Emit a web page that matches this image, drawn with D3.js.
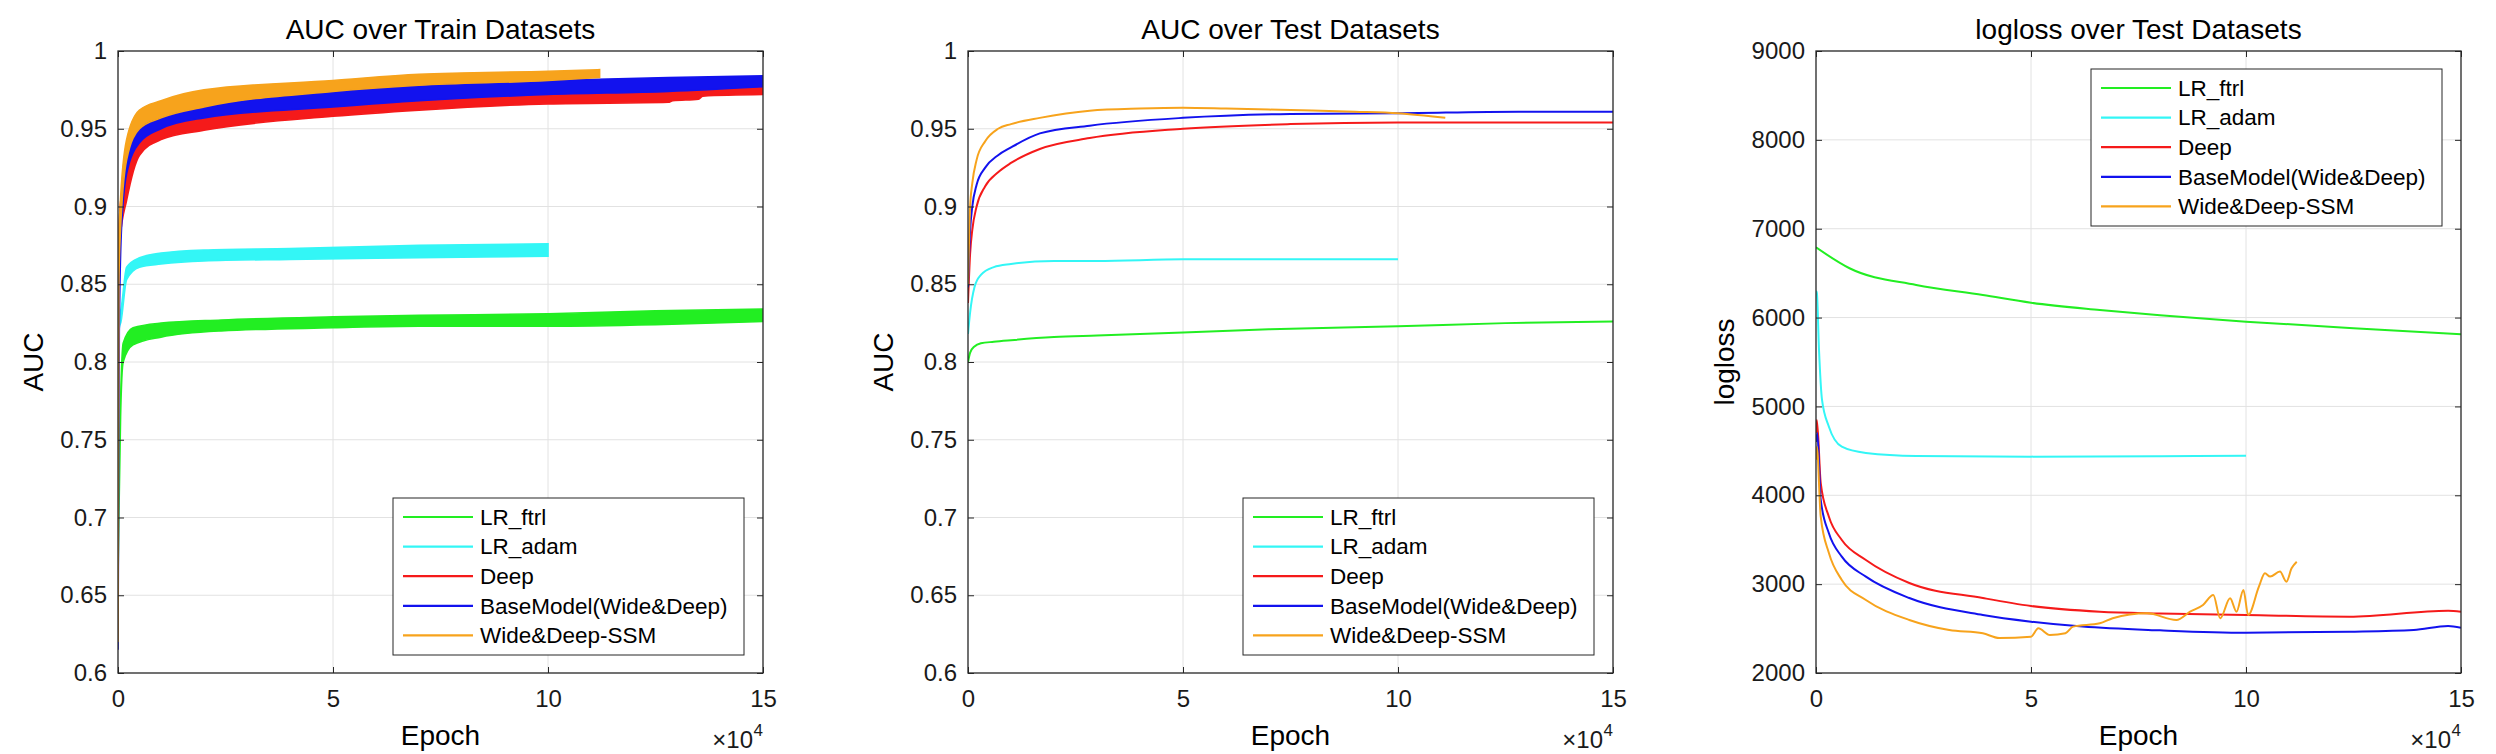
<!DOCTYPE html>
<html>
<head>
<meta charset="utf-8">
<script src="https://cdn.jsdelivr.net/npm/d3@7/dist/d3.min.js"></script>
<style>
  html, body { margin: 0; padding: 0; background: #fff; }
  svg { display: block; font-family: "Liberation Sans", Arial, Helvetica, sans-serif; }
</style>
</head>
<body>
<svg id="chart" width="2496" height="754"></svg>
<script>
// ── shared labels / ticks ──
const seriesNames = ["LR_ftrl", "LR_adam", "Deep", "BaseModel(Wide&Deep)", "Wide&Deep-SSM"];
const seriesColors = ["#22ee22", "#33f6f6", "#f51a1a", "#1212ee", "#f7a31c"];
const epochTicks = [0, 5, 10, 15];
const aucTicks = [0.6, 0.65, 0.7, 0.75, 0.8, 0.85, 0.9, 0.95, 1];
const loglossTicks = [2000, 3000, 4000, 5000, 6000, 7000, 8000, 9000];

// ── AUC over train datasets (noisy bands: low / high envelope), epoch in 1e4 ──
const trainFtrlEpoch = [0, 0.02, 0.06, 0.12, 0.35, 1, 2.4, 5, 7, 10, 12.5, 15];
const trainFtrlLow   = [0.66, 0.70, 0.765, 0.800, 0.811, 0.816, 0.820, 0.822, 0.823, 0.823, 0.824, 0.826];
const trainFtrlHigh  = [0.66, 0.72, 0.775, 0.812, 0.822, 0.825, 0.827, 0.829, 0.830, 0.831, 0.833, 0.834];

const trainAdamEpoch = [0, 0.03, 0.07, 0.2, 0.5, 1, 2, 4, 7, 10];
const trainAdamLow   = [0.815, 0.822, 0.826, 0.853, 0.861, 0.863, 0.865, 0.866, 0.867, 0.868];
const trainAdamHigh  = [0.820, 0.830, 0.834, 0.861, 0.867, 0.870, 0.872, 0.873, 0.875, 0.876];

const trainDeepEpoch = [0, 0.05, 0.2, 0.5, 1, 2, 5, 7, 10, 12.8, 12.9, 13.5, 13.6, 15];
const trainDeepLow   = [0.855, 0.880, 0.904, 0.933, 0.943, 0.949, 0.958, 0.962, 0.966, 0.967, 0.968, 0.969, 0.971, 0.972];
const trainDeepHigh  = [0.860, 0.900, 0.923, 0.943, 0.952, 0.959, 0.966, 0.970, 0.974, 0.975, 0.976, 0.976, 0.978, 0.979];

const trainBaseEpoch = [0, 0.03, 0.08, 0.2, 0.5, 1, 2, 5, 7, 10, 12.8, 15];
const trainBaseLow   = [0.615, 0.820, 0.885, 0.921, 0.941, 0.950, 0.957, 0.964, 0.968, 0.972, 0.974, 0.977];
const trainBaseHigh  = [0.620, 0.860, 0.905, 0.932, 0.951, 0.958, 0.964, 0.974, 0.978, 0.981, 0.983, 0.984];

const trainSsmEpoch = [0, 0.02, 0.05, 0.2, 0.5, 1, 2, 5, 7, 10, 11.2];
const trainSsmLow   = [0.620, 0.850, 0.880, 0.930, 0.950, 0.957, 0.964, 0.974, 0.978, 0.981, 0.983];
const trainSsmHigh  = [0.625, 0.880, 0.900, 0.943, 0.962, 0.968, 0.975, 0.981, 0.985, 0.987, 0.988];

// ── AUC over test datasets ──
const testFtrlEpoch = [0, 0.05, 0.15, 0.3, 0.6, 1, 2, 3, 5, 7, 10, 12.5, 15];
const testFtrlAuc   = [0.800, 0.806, 0.810, 0.812, 0.813, 0.814, 0.816, 0.817, 0.819, 0.821, 0.823, 0.825, 0.826];

const testAdamEpoch = [0, 0.05, 0.15, 0.3, 0.6, 1, 2, 3, 5, 7, 10];
const testAdamAuc   = [0.818, 0.832, 0.848, 0.856, 0.861, 0.863, 0.865, 0.865, 0.866, 0.866, 0.866];

const testDeepEpoch = [0, 0.05, 0.1, 0.2, 0.4, 0.7, 1, 1.67, 2.83, 5, 7.5, 10, 12.8, 15];
const testDeepAuc   = [0.838, 0.870, 0.885, 0.900, 0.913, 0.922, 0.928, 0.937, 0.944, 0.950, 0.953, 0.954, 0.954, 0.954];

const testBaseEpoch = [0, 0.05, 0.1, 0.2, 0.4, 0.7, 1, 1.67, 2.83, 5, 7.5, 10, 12.8, 15];
const testBaseAuc   = [0.848, 0.885, 0.900, 0.914, 0.925, 0.933, 0.938, 0.947, 0.952, 0.957, 0.9595, 0.960, 0.961, 0.961];

const testSsmEpoch = [0, 0.05, 0.1, 0.2, 0.4, 0.7, 1, 1.67, 2.83, 4, 5, 6, 7.5, 9, 10, 11.1];
const testSsmAuc   = [0.850, 0.900, 0.915, 0.930, 0.942, 0.950, 0.953, 0.957, 0.9616, 0.963, 0.9635, 0.963, 0.962, 0.961, 0.960, 0.957];

// ── logloss over test datasets ──
const lossFtrlEpoch = [0, 0.78, 2.33, 3.88, 5, 6.6, 8, 10, 12.5, 15];
const lossFtrl      = [6790, 6555, 6367, 6254, 6167, 6085, 6025, 5954, 5880, 5812];

const lossAdamEpoch = [0, 0.02, 0.07, 0.14, 0.3, 0.6, 1.16, 2.33, 5, 8, 10];
const lossAdam      = [6300, 6276, 5635, 5073, 4772, 4547, 4476, 4442, 4435, 4440, 4446];

const lossDeepEpoch = [0, 0.02, 0.11, 0.3, 0.6, 1.16, 2.17, 3.88, 5, 6.6, 8, 10, 12.4, 14.7, 15];
const lossDeep      = [4700, 4847, 4138, 3759, 3497, 3272, 3013, 2844, 2754, 2690, 2670, 2653, 2634, 2700, 2690];

const lossBaseEpoch = [0, 0.03, 0.11, 0.3, 0.6, 1.16, 2.17, 3.88, 5, 6.2, 8, 10, 12.4, 13.9, 14.7, 15];
const lossBase      = [4600, 4700, 3947, 3572, 3309, 3084, 2844, 2653, 2578, 2522, 2480, 2454, 2465, 2484, 2529, 2510];

const lossSsmEpoch = [0, 0.02, 0.11, 0.3, 0.6, 1.16, 2.17, 3.1, 3.88, 4.26, 5, 5.17, 5.44, 5.8, 5.98, 6.6, 6.9,
  7.7, 8.38, 8.7, 9.0, 9.24, 9.4, 9.63, 9.78, 9.94, 10.05, 10.3, 10.44, 10.56, 10.79, 10.94, 11.06, 11.18];
const lossSsm      = [4400, 4547, 3759, 3350, 3047, 2822, 2597, 2484, 2447, 2394, 2409, 2503, 2428, 2447, 2522, 2559, 2616,
  2672, 2597, 2690, 2766, 2879, 2616, 2841, 2690, 2935, 2653, 2972, 3122, 3085, 3141, 3028, 3178, 3253];

/* ── layout ── */
const panelLefts = [118, 968, 1816];
const plotW = 645, plotTop = 51, plotBottom = 673;
const axisColor = "#262626", gridColor = "#e2e2e2";

const svg = d3.select("#chart");

function zip(xs, ys) {
  return xs.map((e, i) => ({ x: e, y: ys[i] }));
}

function makePanel(i, cfg) {
  const left = panelLefts[i], right = left + plotW;
  const x = d3.scaleLinear().domain([0, 15]).range([left, right]);
  const y = d3.scaleLinear().domain(cfg.yDomain).range([plotBottom, plotTop]);
  const g = svg.append("g");

  // grid
  g.append("g").selectAll("line").data(epochTicks.slice(1, -1)).join("line")
    .attr("x1", (d) => x(d)).attr("x2", (d) => x(d))
    .attr("y1", plotTop).attr("y2", plotBottom)
    .attr("stroke", gridColor).attr("stroke-width", 1);
  g.append("g").selectAll("line").data(cfg.yTicks.slice(1, -1)).join("line")
    .attr("x1", left).attr("x2", right)
    .attr("y1", (d) => y(d)).attr("y2", (d) => y(d))
    .attr("stroke", gridColor).attr("stroke-width", 1);

  const clipId = "clip" + i;
  svg.append("clipPath").attr("id", clipId).append("rect")
    .attr("x", left).attr("y", plotTop).attr("width", plotW).attr("height", plotBottom - plotTop);
  const plot = g.append("g").attr("clip-path", "url(#" + clipId + ")");

  return { g, plot, x, y, left, right, cfg };
}

function finishPanel(p) {
  const { g, x, y, left, right, cfg } = p;

  // axes, inward ticks on all four sides
  const styleAxis = (sel) => {
    sel.attr("color", axisColor).attr("font-family", null).attr("font-size", 24);
    sel.select(".domain").remove();
    sel.selectAll("text").attr("fill", "#1a1a1a");
  };
  g.append("g").attr("transform", "translate(0," + plotBottom + ")")
    .call(d3.axisBottom(x).tickValues(epochTicks).tickSizeInner(-6).tickSizeOuter(0).tickPadding(17))
    .call(styleAxis);
  g.append("g").attr("transform", "translate(0," + plotTop + ")")
    .call(d3.axisTop(x).tickValues(epochTicks).tickSizeInner(-6).tickSizeOuter(0).tickFormat(""))
    .call(styleAxis);
  g.append("g").attr("transform", "translate(" + left + ",0)")
    .call(d3.axisLeft(y).tickValues(cfg.yTicks).tickSizeInner(-6).tickSizeOuter(0).tickPadding(11)
      .tickFormat((d) => String(d)))
    .call(styleAxis);
  g.append("g").attr("transform", "translate(" + right + ",0)")
    .call(d3.axisRight(y).tickValues(cfg.yTicks).tickSizeInner(-6).tickSizeOuter(0).tickFormat(""))
    .call(styleAxis);

  // box
  g.append("rect")
    .attr("x", left).attr("y", plotTop).attr("width", plotW).attr("height", plotBottom - plotTop)
    .attr("fill", "none").attr("stroke", axisColor).attr("stroke-width", 1.3);

  // title + labels
  const cx = (left + right) / 2;
  g.append("text").attr("x", cx).attr("y", 39).attr("text-anchor", "middle")
    .attr("font-size", 28).attr("fill", "#000").text(cfg.title);
  g.append("text").attr("x", cx).attr("y", 745).attr("text-anchor", "middle")
    .attr("font-size", 28).attr("fill", "#000").text("Epoch");
  g.append("text")
    .attr("transform", "translate(" + (left - cfg.yLabelOffset) + "," + (plotTop + plotBottom) / 2 + ") rotate(-90)")
    .attr("text-anchor", "middle").attr("font-size", 28).attr("fill", "#000").text(cfg.yLabel);

  // ×10^4 exponent
  g.append("text").attr("x", right).attr("y", 736).attr("text-anchor", "end")
    .attr("font-size", 17).attr("fill", "#1a1a1a").text("4");
  g.append("text").attr("x", right - 10).attr("y", 748).attr("text-anchor", "end")
    .attr("font-size", 24).attr("fill", "#1a1a1a").text("×10");

  // legend
  const lg = g.append("g").attr("transform", "translate(" + (right - 370) + "," + cfg.legendY + ")");
  lg.append("rect").attr("width", 351).attr("height", 157)
    .attr("fill", "#fff").attr("stroke", axisColor).attr("stroke-width", 1);
  const rows = lg.selectAll("g").data(seriesNames).join("g")
    .attr("transform", (d, k) => "translate(0," + (19 + k * 29.6) + ")");
  rows.append("line").attr("x1", 10).attr("x2", 80).attr("y1", 0).attr("y2", 0)
    .attr("stroke", (d, k) => seriesColors[k]).attr("stroke-width", 2.2);
  rows.append("text").attr("x", 87).attr("y", 0).attr("dy", "0.35em")
    .attr("font-size", 22.5).attr("fill", "#000").text((d) => d);
}

/* ── panel 1: train AUC bands ── */
const trainSeries = [
  { ep: trainFtrlEpoch, lo: trainFtrlLow, hi: trainFtrlHigh },
  { ep: trainAdamEpoch, lo: trainAdamLow, hi: trainAdamHigh },
  { ep: trainDeepEpoch, lo: trainDeepLow, hi: trainDeepHigh },
  { ep: trainBaseEpoch, lo: trainBaseLow, hi: trainBaseHigh },
  { ep: trainSsmEpoch, lo: trainSsmLow, hi: trainSsmHigh },
];
const p1 = makePanel(0, {
  title: "AUC over Train Datasets", yLabel: "AUC", yDomain: [0.6, 1], yTicks: aucTicks,
  yLabelOffset: 75, legendY: plotBottom - 175,
});
const band = d3.area()
  .x((d) => p1.x(d.x)).y0((d) => p1.y(d.lo)).y1((d) => p1.y(d.hi))
  .curve(d3.curveMonotoneX);
p1.plot.selectAll("path.band").data(trainSeries).join("path")
  .attr("class", "band")
  .attr("d", (s) => band(s.ep.map((e, i) => ({ x: e, lo: s.lo[i], hi: s.hi[i] }))))
  .attr("fill", (s, k) => seriesColors[k])
  .attr("stroke", (s, k) => seriesColors[k])
  .attr("stroke-width", 1.6);
finishPanel(p1);

/* ── panel 2: test AUC ── */
const testSeries = [
  zip(testFtrlEpoch, testFtrlAuc),
  zip(testAdamEpoch, testAdamAuc),
  zip(testDeepEpoch, testDeepAuc),
  zip(testBaseEpoch, testBaseAuc),
  zip(testSsmEpoch, testSsmAuc),
];
const p2 = makePanel(1, {
  title: "AUC over Test Datasets", yLabel: "AUC", yDomain: [0.6, 1], yTicks: aucTicks,
  yLabelOffset: 75, legendY: plotBottom - 175,
});
const line2 = d3.line().x((d) => p2.x(d.x)).y((d) => p2.y(d.y)).curve(d3.curveMonotoneX);
p2.plot.selectAll("path.series").data(testSeries).join("path")
  .attr("class", "series").attr("d", line2).attr("fill", "none")
  .attr("stroke", (s, k) => seriesColors[k]).attr("stroke-width", 2);
finishPanel(p2);

/* ── panel 3: test logloss ── */
const lossSeries = [
  zip(lossFtrlEpoch, lossFtrl),
  zip(lossAdamEpoch, lossAdam),
  zip(lossDeepEpoch, lossDeep),
  zip(lossBaseEpoch, lossBase),
  zip(lossSsmEpoch, lossSsm),
];
const p3 = makePanel(2, {
  title: "logloss over Test Datasets", yLabel: "logloss", yDomain: [2000, 9000], yTicks: loglossTicks,
  yLabelOffset: 82, legendY: plotTop + 18,
});
const line3 = d3.line().x((d) => p3.x(d.x)).y((d) => p3.y(d.y)).curve(d3.curveMonotoneX);
p3.plot.selectAll("path.series").data(lossSeries).join("path")
  .attr("class", "series").attr("d", line3).attr("fill", "none")
  .attr("stroke", (s, k) => seriesColors[k]).attr("stroke-width", 2);
finishPanel(p3);
</script>
</body>
</html>
